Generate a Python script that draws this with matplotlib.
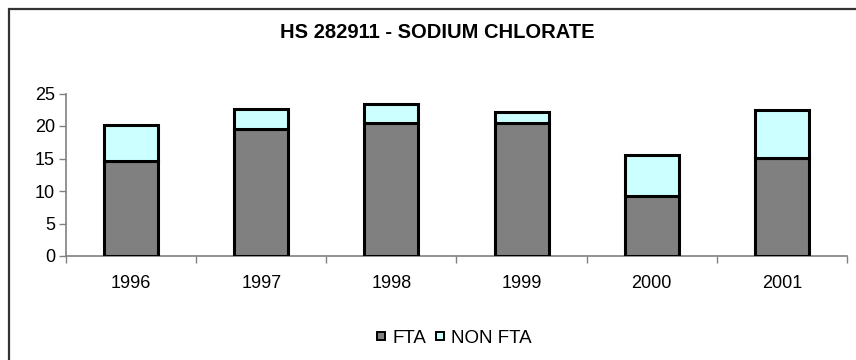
import matplotlib
matplotlib.use("Agg")
import matplotlib.pyplot as plt
from matplotlib.patches import Rectangle
from matplotlib.lines import Line2D
import numpy as np

years = ["1996", "1997", "1998", "1999", "2000", "2001"]
fta = [14.6, 19.6, 20.5, 20.4, 9.3, 15.1]
non_fta = [5.6, 3.0, 2.9, 1.7, 6.2, 7.4]
y_ticks = [0, 5, 10, 15, 20, 25]

plt.rcParams["font.family"] = ["Liberation Sans", "DejaVu Sans"]

W, H = 856, 360
fig = plt.figure(figsize=(W / 100, H / 100), dpi=100)
fig.patch.set_facecolor("white")

# outer chart frame (open to the right and bottom edges)
fig.add_artist(Rectangle((8.5 / W, -0.1), 2.0, (H - 8.5) / H + 0.1,
                         transform=fig.transFigure, fill=False,
                         edgecolor="#333333", linewidth=1.6))

left, right = 66 / W, 847 / W
bottom, top = (H - 256) / H, (H - 93.5) / H
ax = fig.add_axes([left, bottom, right - left, top - bottom])

x = np.arange(len(years))
bw = 0.415
ax.bar(x, fta, bw, color="#808080", edgecolor="black", linewidth=2.2,
       label="FTA", zorder=3)
ax.bar(x, non_fta, bw, bottom=fta, color="#CCFFFF", edgecolor="black",
       linewidth=2.2, label="NON FTA", zorder=3)

ax.set_xlim(-0.5, len(years) - 0.5)
ax.set_ylim(0, 25)
ax.set_yticks(y_ticks)
ax.set_yticklabels([str(v) for v in y_ticks], fontsize=13)

# category labels centred, tick marks on category boundaries
ax.set_xticks(x)
ax.set_xticklabels(years, fontsize=13)
ax.tick_params(axis="x", length=0, pad=14)
ax.set_xticks(np.arange(-0.5, len(years)), minor=True)
ax.tick_params(axis="x", which="minor", length=5, color="#808080",
               direction="out", width=1)
ax.tick_params(axis="y", length=5, color="#808080", width=1, pad=3)

for side in ["top", "right"]:
    ax.spines[side].set_visible(False)
for side in ["left", "bottom"]:
    ax.spines[side].set_color("#808080")
    ax.spines[side].set_linewidth(1.2)

fig.text(437 / W, 1 - 33 / H, "HS 282911 - SODIUM CHLORATE",
         ha="center", va="center", fontsize=14.5, fontweight="bold")

handles = [Line2D([], [], linestyle="none", marker="s", markersize=6,
                  markerfacecolor="#808080", markeredgecolor="black",
                  markeredgewidth=1.4),
           Line2D([], [], linestyle="none", marker="s", markersize=6,
                  markerfacecolor="#CCFFFF", markeredgecolor="black",
                  markeredgewidth=1.4)]
fig.legend(handles, ["FTA", "NON FTA"], loc="center",
           bbox_to_anchor=(454 / W, 1 - 338 / H), ncol=2, frameon=False,
           fontsize=13.5, handlelength=0.5, handletextpad=0.35,
           columnspacing=0.45)

fig.savefig("out.png", dpi=100, facecolor="white")
